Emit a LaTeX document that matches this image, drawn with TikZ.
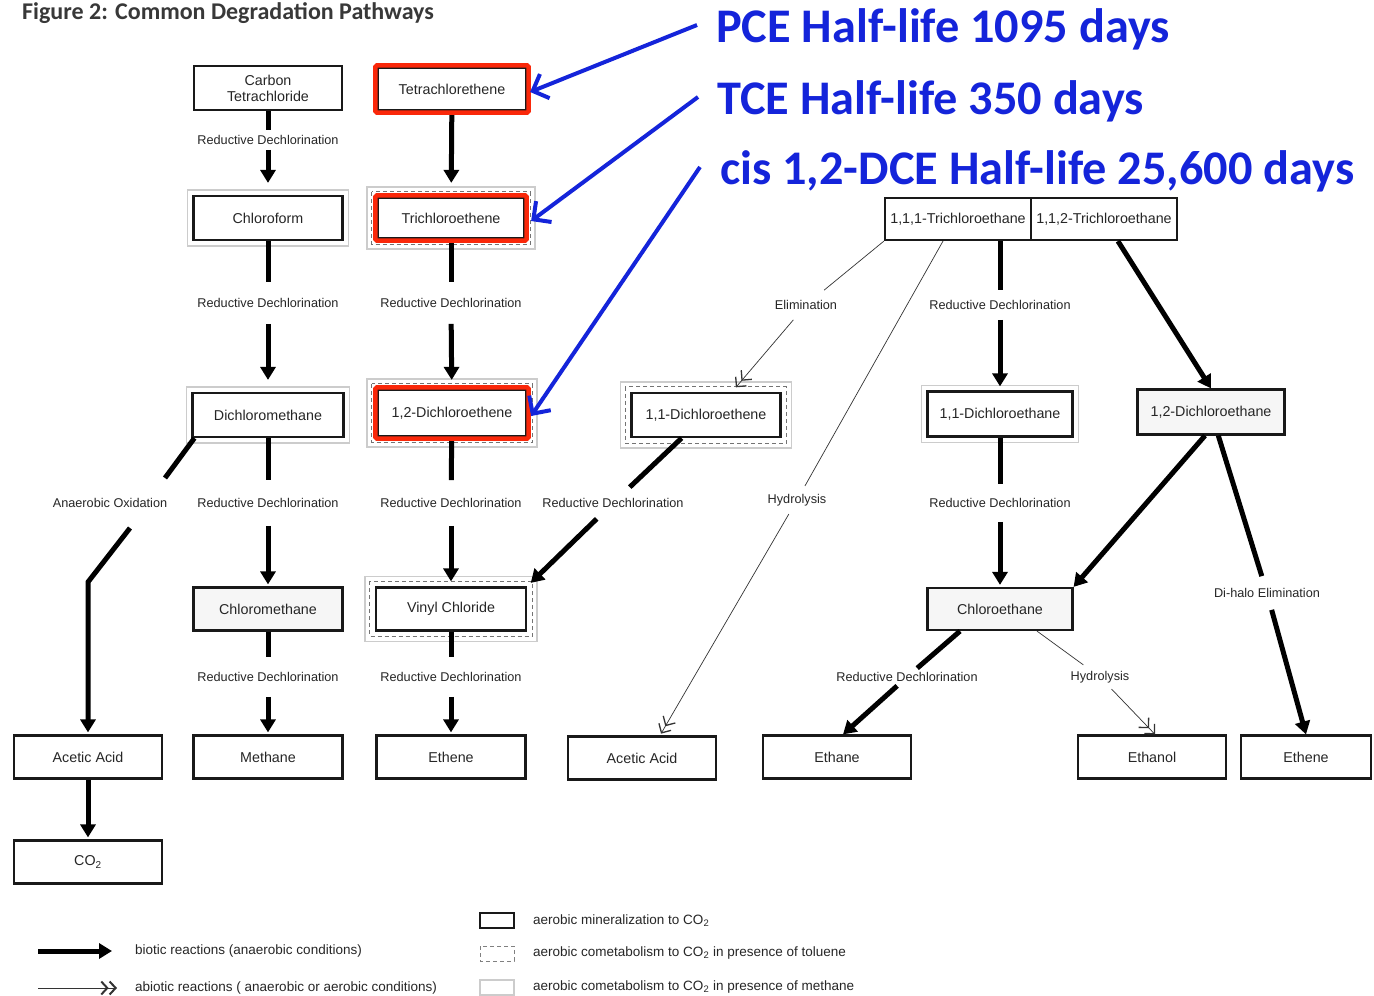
\documentclass[tikz,border=0pt]{standalone}
\usepackage{fontspec}
\setmainfont{Liberation Sans}
\newfontfamily\calfont{Carlito}
\usetikzlibrary{arrows.meta}
\definecolor{annred}{RGB}{250,40,10}
\definecolor{annblue}{RGB}{20,36,218}
\newcommand\methframe[1]{\draw[gray!40, line width=1.4pt] ([shift={(-5,-5)}]#1.north west) rectangle ([shift={(5,5)}]#1.south east);}
\newcommand\tolframe[1]{\draw[black!55, line width=0.9pt, dash pattern=on 4pt off 3pt] ([shift={(-5,-5)}]#1.north west) rectangle ([shift={(5,5)}]#1.south east);
  \draw[gray!40, line width=1.4pt] ([shift={(-10,-10)}]#1.north west) rectangle ([shift={(10,10)}]#1.south east);}
\newcommand\redframe[1]{\draw[annred, line width=4.5pt, rounded corners=1.5pt] ([shift={(-1.5,-1.5)}]#1.north west) rectangle ([shift={(1.5,1.5)}]#1.south east);}
\begin{document}
\begin{tikzpicture}[x=1pt,y=-1pt,
  box/.style={draw=black!90, line width=2.2pt, minimum width=148pt, minimum height=43pt, inner sep=1pt,
    font=\fontsize{14.3}{16}\selectfont, text=black!85, align=center},
  lab/.style={font=\fontsize{12.7}{14}\selectfont, text=black!85, inner xsep=2pt},
  leg/.style={font=\fontsize{13.5}{15}\selectfont, text=black!85, anchor=west, inner sep=0pt},
  bio/.style={line width=5pt, draw=black},
  bioarr/.style={bio, -{Triangle[length=13pt,width=15pt]}},
  abio/.style={line width=0.7pt, draw=black!80},
  abioarr/.style={abio, -{Straight Barb[length=7pt,width=14pt,line width=1.3pt] Straight Barb[length=7pt,width=14pt,line width=1.3pt]}},
  bluetext/.style={font=\calfont\bfseries\fontsize{48.3}{50}\selectfont, text=annblue, anchor=base west, inner sep=0pt},
  bluearr/.style={draw=annblue, line width=4pt, -{Straight Barb[length=13pt,width=26pt]}}
]
\useasboundingbox (0,0) rectangle (1374,996);
\fill[white] (0,0) rectangle (1374,996);

% title
\node[anchor=base west, inner sep=0pt, font=\calfont\bfseries\fontsize{24}{26}\selectfont, text=black!78] (title) at (22,19) {Figure 2: Common Degradation Pathways};

% boxes
\node[box, minimum height=44pt] (cct) at (268,88) {Carbon\\Tetrachloride};
\node[box, minimum height=42pt] (pce) at (452,89) {Tetrachlorethene};
\node[box, minimum width=149pt, minimum height=44pt] (cf) at (268,218) {Chloroform};
\node[box, minimum width=146pt, minimum height=40pt] (tce) at (451,218) {Trichloroethene};
\node[box, minimum width=151pt, minimum height=44pt] (dcm) at (268,415) {Dichloromethane};
\node[box, minimum height=46pt] (dce12) at (452,413) {1,2-Dichloroethene};
\node[box, minimum width=149pt, minimum height=44pt] (dce11) at (706,415) {1,1-Dichloroethene};
\node[box, minimum width=146pt, minimum height=42pt] (tca111) at (958,219) {1,1,1-Trichloroethane};
\node[box, minimum width=146pt, minimum height=42pt] (tca112) at (1104,219) {1,1,2-Trichloroethane};
\node[box, minimum width=145pt, minimum height=45pt] (dca11) at (1000,414) {1,1-Dichloroethane};
\node[box, minimum width=147pt, minimum height=45pt, fill=gray!7] (dca12) at (1211,412) {1,2-Dichloroethane};
\node[box, minimum width=149pt, fill=gray!7] (cm) at (268,609) {Chloromethane};
\node[box, minimum width=150pt] (vc) at (451,609) {Vinyl Chloride};
\node[box, minimum width=145pt, minimum height=42pt, fill=gray!7] (ca) at (1000,609) {Chloroethane};
\node[box] (aa1) at (88,757) {Acetic Acid};
\node[box, minimum width=149pt] (meth) at (268,757) {Methane};
\node[box, minimum width=149pt] (eth1) at (451,757) {Ethene};
\node[box] (aa2) at (642,758) {Acetic Acid};
\node[box] (etha) at (837,757) {Ethane};
\node[box] (etoh) at (1152,757) {Ethanol};
\node[box, minimum width=130pt] (eth2) at (1306,757) {Ethene};
\node[box] (co2) at (88,862) {CO\textsubscript{2}};

% cometabolism frames
\methframe{cf}
\methframe{dcm}
\methframe{dca11}
\tolframe{tce}
\tolframe{dce12}
\tolframe{vc}
\tolframe{dce11}

% reaction labels
\node[lab, inner ysep=5pt] (l1) at (268,140) {Reductive Dechlorination};
\node[lab, inner ysep=16pt] (l2) at (268,303) {Reductive Dechlorination};
\node[lab, inner ysep=18pt] (l3) at (268,503) {Reductive Dechlorination};
\node[lab, inner ysep=15pt] (l4) at (268,677) {Reductive Dechlorination};
\node[lab, inner ysep=16pt] (l5) at (451,303) {Reductive Dechlorination};
\node[lab, inner ysep=18pt] (l6) at (451,503) {Reductive Dechlorination};
\node[lab, inner ysep=15pt] (l7) at (451,677) {Reductive Dechlorination};
\node[lab, inner ysep=10pt] (l8) at (1000,305) {Reductive Dechlorination};
\node[lab, inner ysep=14pt] (l9) at (1000,503) {Reductive Dechlorination};
\node[lab, inner ysep=12pt] (l10) at (1267,593) {Di-halo Elimination};
\node[lab, inner ysep=4pt] (l11) at (907,677) {Reductive Dechlorination};
\node[lab, inner ysep=6pt] (l12) at (1100,677) {Hydrolysis};
\node[lab, inner ysep=8pt] (l13) at (797,500) {Hydrolysis};
\node[lab, inner ysep=10pt] (l14) at (806,305) {Elimination};
\node[lab, inner ysep=11pt] (l15) at (613,503) {Reductive Dechlorination};
\node[lab, inner ysep=4pt] (l16) at (110,503) {Anaerobic Oxidation};

% column 1
\draw[bio] (cct) -- (l1);
\draw[bioarr, shorten >=12pt] (l1) -- (cf);
\draw[bio] (cf) -- (l2);
\draw[bioarr, shorten >=12pt] (l2) -- (dcm);
\draw[bio] (dcm) -- (l3);
\draw[bioarr, shorten >=2pt] (l3) -- (cm);
\draw[bio] (cm) -- (l4);
\draw[bioarr, shorten >=2pt] (l4) -- (meth);

% anaerobic oxidation
\coordinate (ao1) at (165,478);
\coordinate (ao2) at (130,528);
\coordinate (ao3) at (88,582);
\draw[bio] ([xshift=3pt]dcm.south west) -- (ao1);
\draw[bioarr, shorten >=2pt] (ao2) -- (ao3) -- (aa1.north);
\draw[bioarr, shorten >=2pt] (aa1) -- (co2);

% column 2
\draw[bioarr, shorten >=14pt] (pce) -- (tce);
\draw[bio] (tce) -- (l5);
\draw[bioarr, shorten >=9pt] (l5) -- (dce12);
\draw[bio] (dce12) -- (l6);
\draw[bioarr, shorten >=5pt] (l6) -- (vc);
\draw[bio] (vc) -- (l7);
\draw[bioarr, shorten >=2pt] (l7) -- (eth1);

% 1,1-DCE -> VC
\draw[bio] (dce11) -- (l15);
\draw[bioarr, shorten >=5pt] (l15) -- (vc.north east);

% 1,1,1-TCA branch
\draw[abio] (tca111.south west) -- (l14);
\draw[abioarr, shorten >=6pt] (l14) -- ([xshift=26pt]dce11.north);
\draw[abio] ([xshift=-15pt]tca111.south) -- (l13);
\draw[abioarr, shorten >=2pt] (l13) -- ([xshift=18pt]aa2.north);
\draw[bio] ([xshift=42pt]tca111.south) -- (l8);
\draw[bioarr, shorten >=4pt] (l8) -- (dca11);
\draw[bio] (dca11) -- (l9);
\draw[bioarr, shorten >=2pt] (l9) -- (ca);

% 1,1,2-TCA branch
\draw[bioarr] (tca112) -- (dca12.north);
\draw[bioarr] ([xshift=-6pt]dca12.south) -- (ca.north east);
\draw[bio] (dca12) -- (l10);
\draw[bioarr] (l10) -- (eth2.north);

% chloroethane
\draw[bio] ([xshift=-40pt]ca.south) -- (l11);
\draw[bioarr] (l11) -- ([xshift=6pt]etha.north);
\draw[abio] ([xshift=37pt]ca.south) -- (l12);
\draw[abioarr] (l12) -- ([xshift=3pt]etoh.north);

% red highlight frames
\redframe{pce}
\redframe{tce}
\redframe{dce12}

% blue annotations
\node[bluetext] (t1) at (716,42) {PCE Half-life 1095 days};
\node[bluetext] (t2) at (717,114) {TCE Half-life 350 days};
\node[bluetext] (t3) at (720,184) {cis 1,2-DCE Half-life 25,600 days};
\coordinate (b1) at (697,25);
\coordinate (b2) at (698,97);
\coordinate (b3) at (700,167);
\draw[bluearr] (b1) -- ([shift={(3pt,-3pt)}]pce.east);
\draw[bluearr] (b2) -- ([shift={(6pt,-3pt)}]tce.east);
\draw[bluearr] (b3) -- ([shift={(4pt,-3pt)}]dce12.east);

% legend
\coordinate (lg1a) at (38,951);
\coordinate (lg1b) at (112,951);
\coordinate (lg2a) at (38,988);
\coordinate (lg2b) at (117,988);
\draw[bioarr] (lg1a) -- (lg1b);
\draw[abio, -{Straight Barb[length=6pt,width=13pt,line width=2pt] Straight Barb[length=6pt,width=13pt,line width=2pt]}] (lg2a) -- (lg2b);
\node[leg] (lt1) at (135,951) {biotic reactions (anaerobic conditions)};
\node[leg] (lt2) at (135,988) {abiotic reactions ( anaerobic or aerobic conditions)};
\draw[black!90, line width=2pt] (480,913) rectangle (514,928);
\draw[black!50, line width=0.9pt, dash pattern=on 4pt off 3pt] (480,946) rectangle (514,961);
\draw[gray!40, line width=1.4pt] (480,980) rectangle (514,995);
\node[leg] (lt3) at (533,921) {aerobic mineralization to CO\textsubscript{2}};
\node[leg] (lt4) at (533,953) {aerobic cometabolism to CO\textsubscript{2} in presence of toluene};
\node[leg] (lt5) at (533,987) {aerobic cometabolism to CO\textsubscript{2} in presence of methane};
\end{tikzpicture}
\end{document}
